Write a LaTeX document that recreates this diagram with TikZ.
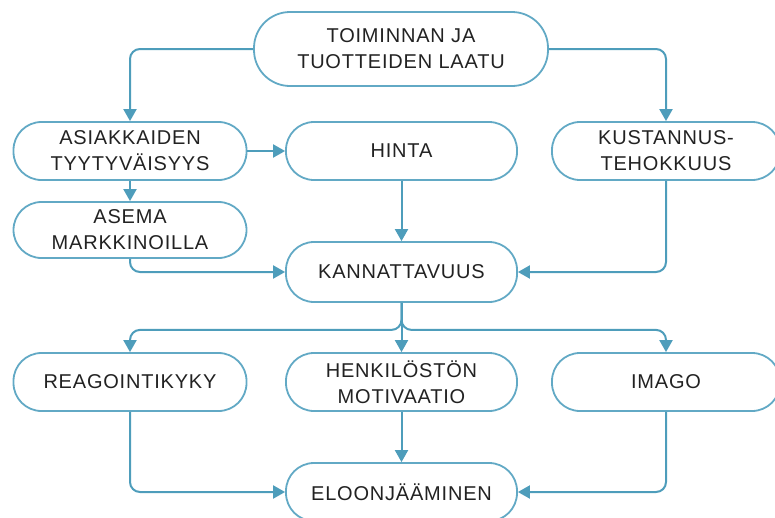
\documentclass[tikz,border=0pt]{standalone}
\usepackage{fontspec}
\setmainfont{Liberation Sans}[LetterSpace=4]
\usetikzlibrary{arrows.meta}
\definecolor{ln}{HTML}{4E9DBB}
\definecolor{bx}{HTML}{62A9C5}
\definecolor{tx}{HTML}{222222}
\tikzset{
  box/.style={draw=bx, line width=1.8pt, rounded corners=28pt, minimum height=58pt,
    inner sep=0pt, align=center, font=\fontsize{20}{26}\selectfont, text=tx},
  conn/.style={draw=ln, line width=2pt, rounded corners=10pt,
    -{Triangle[width=13pt,length=12pt]}}
}
\begin{document}
\begin{tikzpicture}[x=1pt,y=-1pt]
\useasboundingbox (0,0) rectangle (775,517);
\node[box, minimum width=294pt, minimum height=74pt, rounded corners=36pt] (top) at (401,49) {TOIMINNAN JA\\TUOTTEIDEN LAATU};
\node[box, minimum width=233pt] (asiak) at (130,151) {ASIAKKAIDEN\\TYYTYVÄISYYS};
\node[box, minimum width=231pt] (hinta) at (401.5,151) {HINTA};
\node[box, minimum width=228pt] (kust) at (666,151) {KUSTANNUS-\\TEHOKKUUS};
\node[box, minimum width=233pt, minimum height=56pt] (asema) at (130,230) {ASEMA\\MARKKINOILLA};
\node[box, minimum width=231pt, minimum height=60pt] (kann) at (401.5,272) {KANNATTAVUUS};
\node[box, minimum width=233pt] (reag) at (130,382) {REAGOINTIKYKY};
\node[box, minimum width=231pt] (henk) at (401.5,382) {HENKILÖSTÖN\\MOTIVAATIO};
\node[box, minimum width=228pt] (imago) at (666,382) {IMAGO};
\node[box, minimum width=231pt] (eloon) at (401.5,492) {ELOONJÄÄMINEN};

\draw[conn] (top.west) -| (asiak.north);
\draw[conn] (top.east) -| (kust.north);
\draw[conn] (asiak.east) -- (hinta.west);
\draw[conn] (asiak.south) -- (asema.north);
\draw[conn] (asema.south) |- (kann.west);
\draw[conn] (hinta.south) -- (kann.north);
\draw[conn] (kust.south) |- (kann.east);
\draw[conn] (kann.south) -- ++(0,27) -| (reag.north);
\draw[conn] (kann.south) -- ++(0,27) -| (imago.north);
\draw[conn] (kann.south) -- (henk.north);
\draw[conn] (reag.south) |- (eloon.west);
\draw[conn] (henk.south) -- (eloon.north);
\draw[conn] (imago.south) |- (eloon.east);
\end{tikzpicture}
\end{document}
